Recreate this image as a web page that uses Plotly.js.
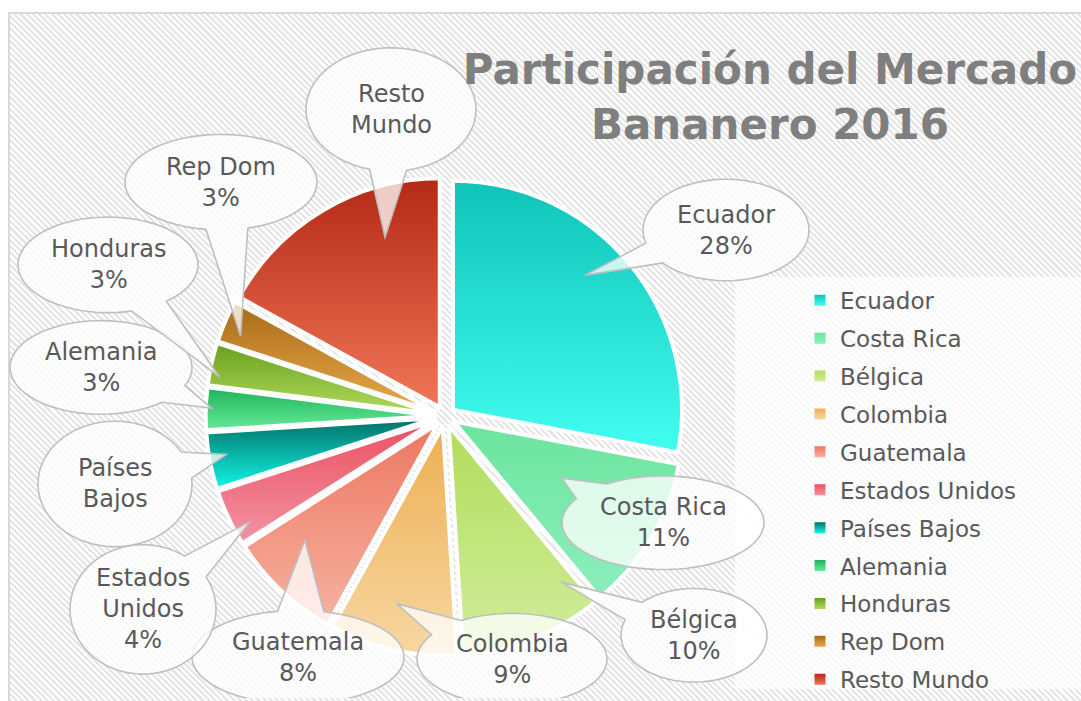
<!DOCTYPE html>
<html><head><meta charset="utf-8">
<script src="https://cdn.plot.ly/plotly-3.0.1.min.js"></script>
<style>
html,body{margin:0;padding:0;background:#fff;width:1081px;height:701px;overflow:hidden}
#frame{position:absolute;left:8px;top:12px;width:1100px;height:720px;border:2px solid #d9d9d9;box-sizing:border-box;
background:repeating-linear-gradient(45deg,#ffffff 0px,#ffffff 2.2px,#e6e6e6 2.2px,#e6e6e6 4.4px);}
#chart{position:absolute;left:0;top:0;width:1081px;height:701px}
</style></head><body>
<div id="frame"></div><div id="chart"></div>
<script>
// ---------- data ----------
const countries = ['Ecuador','Costa Rica','Bélgica','Colombia','Guatemala','Estados Unidos','Países Bajos','Alemania','Honduras','Rep Dom','Resto Mundo'];
const shares = [28, 11, 10, 9, 8, 4, 4, 3, 3, 3, 17];
const calloutNames = ['Ecuador','Costa Rica','Bélgica','Colombia','Guatemala','Estados<br>Unidos','Países<br>Bajos','Alemania','Honduras','Rep Dom','Resto<br>Mundo'];
const showPercent = [true, true, true, true, true, true, false, true, true, true, false];
const titleText = 'Participación del Mercado<br>Bananero 2016';

// ---------- style ----------
const colorTop    = ['#0fc3b8','#6be49e','#b2dd5c','#edae52','#ed7760','#eb4f60','#006f66','#1cb358','#68a01e','#a86a18','#b42914'];
const colorBottom = ['#42fdf1','#8cefbd','#d2ed9c','#f7d8a2','#f6b2a2','#f394a4','#12f6e6','#68ea9a','#b2da5c','#eaaa4a','#f07659'];
const W = 1081, H = 701, CX = 445, CY = 418, R = 230, PULL = 0.045;
const FONT = 'DejaVu Sans', TXT = '#595959';
// callout bubbles: ellipse centre/radii (px) and tail tip position inside slice
const bubbleCx = [726, 663, 694, 512, 298, 143, 115, 101, 108, 221, 391];
const bubbleCy = [231, 525, 638, 662, 660, 612, 486, 369, 266, 183, 110];
const bubbleRx = [83, 101, 73, 95, 106, 73, 77, 91, 90, 96, 85];
const bubbleRy = [51, 47, 47, 46, 47, 65, 63, 47, 48, 48, 62];
const tipAngleFrac = [0.44, 0.43, 0.11, 0.56, 0.69, 0.26, 0.56, 0.52, 0.24, 0.31, 0.71];
const tipRadFrac   = [0.82, 0.53, 0.84, 0.80, 0.77, 0.92, 0.92, 0.97, 0.95, 0.91, 0.78];

function mix(a, b) {
  const p = h => [1,3,5].map(i => parseInt(h.substr(i,2),16));
  const A = p(a), B = p(b);
  return 'rgb(' + A.map((v,i) => Math.round((v + B[i]) / 2)).join(',') + ')';
}
const midColors = colorTop.map((c,i) => mix(c, colorBottom[i]));

const total = shares.reduce((s,v) => s + v, 0);
const half = R * (1 + PULL);

const pie = {
  type: 'pie', labels: countries, values: shares, sort: false, direction: 'clockwise', rotation: 0,
  pull: PULL, textinfo: 'none', hoverinfo: 'label+percent', showlegend: false,
  marker: { colors: midColors, line: { color: '#ffffff', width: 4 } },
  domain: { x: [(CX - half) / W, (CX + half) / W], y: [(H - CY - half) / H, (H - CY + half) / H] }
};

const legendTraces = countries.map((c,i) => ({
  type: 'scatter', mode: 'markers', x: [-100], y: [-100], name: c, legendgroup: 'g' + i,
  marker: { symbol: 'square', size: 11, color: midColors[i] }, hoverinfo: 'skip', showlegend: true
}));

// callout shapes + texts
const shapes = [{
  type: 'rect', xref: 'x', yref: 'y', x0: 735, x1: 1081, y0: 278, y1: 692, layer: 'below',
  fillcolor: 'rgba(255,255,255,0.72)', line: { width: 0 }
}];
const annotations = [];
let cum = 0;
const rad = d => d * Math.PI / 180;
shares.forEach((v,i) => {
  const start = 360 * cum / total, span = 360 * v / total;
  cum += v;
  const mid = start + span / 2;
  const ta = start + span * tipAngleFrac[i];
  const ox = CX + PULL * R * Math.sin(rad(mid)), oy = CY - PULL * R * Math.cos(rad(mid));
  const tx = ox + tipRadFrac[i] * R * Math.sin(rad(ta)), ty = oy - tipRadFrac[i] * R * Math.cos(rad(ta));
  const ex = bubbleCx[i], ey = bubbleCy[i], rx = bubbleRx[i], ry = bubbleRy[i];
  const t0 = Math.atan2((ty - ey) / ry, (tx - ex) / rx);
  const w = 0.22, N = 72;
  let path = '';
  for (let k = 0; k <= N; k++) {
    const t = t0 + w + (2 * Math.PI - 2 * w) * k / N;
    path += (k ? 'L' : 'M') + (ex + rx * Math.cos(t)).toFixed(2) + ',' + (ey + ry * Math.sin(t)).toFixed(2);
  }
  path += 'L' + tx.toFixed(2) + ',' + ty.toFixed(2) + 'Z';
  shapes.push({ type: 'path', xref: 'x', yref: 'y', path: path, layer: 'above',
    fillcolor: 'rgba(255,255,255,0.76)', line: { color: '#bfbfbf', width: 1.6 } });
  const pct = Math.round(100 * v / total);
  annotations.push({ xref: 'x', yref: 'y', x: ex, y: ey, showarrow: false, align: 'center',
    text: calloutNames[i] + (showPercent[i] ? '<br>' + pct + '%' : ''),
    font: { family: FONT, size: 24, color: TXT } });
});

const layout = {
  width: W, height: H, margin: { l: 0, r: 0, t: 0, b: 0, pad: 0 },
  paper_bgcolor: 'rgba(0,0,0,0)', plot_bgcolor: 'rgba(0,0,0,0)',
  xaxis: { range: [0, W], visible: false, fixedrange: true },
  yaxis: { range: [H, 0], visible: false, fixedrange: true },
  title: { text: titleText, x: 770 / W, xanchor: 'center', xref: 'paper', y: 1 - 84 / H, yanchor: 'top', yref: 'container',
    font: { family: FONT, size: 42, color: '#7f7f7f', weight: 'bold' } },
  showlegend: true,
  legend: { x: 800 / W, xanchor: 'left', y: 1 - 280 / H, yanchor: 'top', traceorder: 'grouped', tracegroupgap: 5,
    bgcolor: 'rgba(0,0,0,0)', font: { family: FONT, size: 23, color: TXT } },
  shapes: shapes, annotations: annotations
};

Plotly.newPlot('chart', [pie].concat(legendTraces), layout, { displayModeBar: false, responsive: false }).then(gd => {
  try {
    const svg = gd.querySelector('svg.main-svg');
    let defs = svg.querySelector('defs');
    const NS = 'http://www.w3.org/2000/svg';
    colorTop.forEach((c,i) => {
      const g = document.createElementNS(NS, 'linearGradient');
      g.setAttribute('id', 'slicegrad' + i);
      g.setAttribute('x1', '0'); g.setAttribute('y1', '0'); g.setAttribute('x2', '0'); g.setAttribute('y2', '1');
      [[0, c], [1, colorBottom[i]]].forEach(([o, col]) => {
        const s = document.createElementNS(NS, 'stop');
        s.setAttribute('offset', o); s.setAttribute('stop-color', col);
        g.appendChild(s);
      });
      defs.appendChild(g);
    });
    gd.querySelectorAll('.pielayer .slice path.surface').forEach((p,i) => { p.style.fill = 'url(#slicegrad' + i + ')'; });
    gd.querySelectorAll('.legend .traces').forEach((t,i) => {
      const p = t.querySelector('path.scatterpts');
      if (p) p.style.fill = 'url(#slicegrad' + i + ')';
    });
  } catch (e) { console.log(e); }
});
</script>
</body></html>
